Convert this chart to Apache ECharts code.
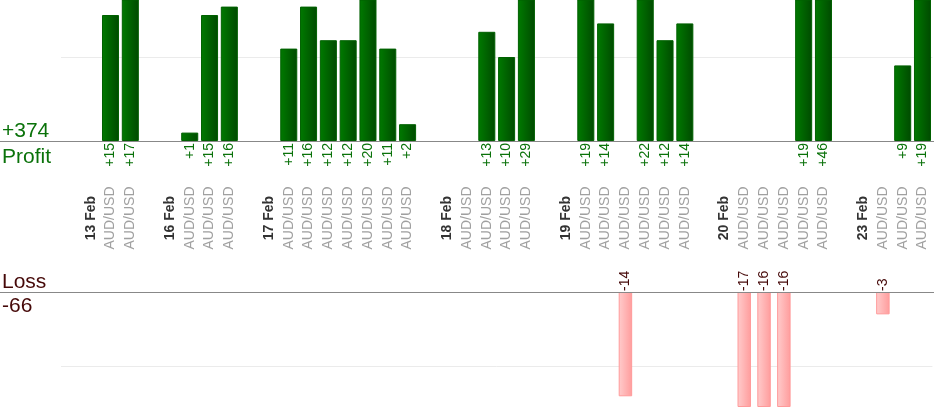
<!DOCTYPE html>
<html>
<head>
<meta charset="utf-8">
<script src="https://cdn.jsdelivr.net/npm/echarts@6/dist/echarts.min.js"></script>
<style>
html,body{margin:0;padding:0;background:#fff;}
#chart{width:934px;height:420px;}
</style>
</head>
<body>
<div id="chart"></div>
<script>
// ---- data ----
var categories = [
  '', '13 Feb', 'AUD/USD', 'AUD/USD',
  '', '16 Feb', 'AUD/USD', 'AUD/USD', 'AUD/USD',
  '', '17 Feb', 'AUD/USD', 'AUD/USD', 'AUD/USD', 'AUD/USD', 'AUD/USD', 'AUD/USD', 'AUD/USD',
  '', '18 Feb', 'AUD/USD', 'AUD/USD', 'AUD/USD', 'AUD/USD',
  '', '19 Feb', 'AUD/USD', 'AUD/USD', 'AUD/USD', 'AUD/USD', 'AUD/USD', 'AUD/USD',
  '', '20 Feb', 'AUD/USD', 'AUD/USD', 'AUD/USD', 'AUD/USD', 'AUD/USD',
  '', '23 Feb', 'AUD/USD', 'AUD/USD', 'AUD/USD'
];
var profitValues = [
  null, null, 15, 17,
  null, null, 1, 15, 16,
  null, null, 11, 16, 12, 12, 20, 11, 2,
  null, null, null, 13, 10, 29,
  null, null, 19, 14, null, 22, 12, 14,
  null, null, null, null, null, 19, 46,
  null, null, null, 9, 19
];
var lossValues = [
  null, null, null, null,
  null, null, null, null, null,
  null, null, null, null, null, null, null, null, null,
  null, null, null, null, null, null,
  null, null, null, null, -14, null, null, null,
  null, null, -17, -16, -16, null, null,
  null, null, -3, null, null
];
var dateLabels = ['13 Feb', '16 Feb', '17 Feb', '18 Feb', '19 Feb', '20 Feb', '23 Feb'];

var totalProfit = profitValues.reduce(function (s, v) { return s + (v || 0); }, 0);
var totalLoss = lossValues.reduce(function (s, v) { return s + (v || 0); }, 0);

var FONT = '"Liberation Sans", Arial, sans-serif';
var GREEN_TEXT = '#0a720a';
var LOSS_TEXT = '#450808';

var chart = echarts.init(document.getElementById('chart'), null, { renderer: 'canvas' });

var splitLineCfg = {
  show: true,
  showMinLine: false,
  showMaxLine: false,
  lineStyle: { color: '#ebebeb', width: 1 }
};

chart.setOption({
  animation: false,
  backgroundColor: '#ffffff',
  textStyle: { fontFamily: FONT },
  grid: [
    { left: 61, width: 871.4, top: 0, height: 141, outerBoundsMode: 'none', containLabel: false },
    { left: 61, width: 871.4, top: 292, height: 114.5, outerBoundsMode: 'none', containLabel: false }
  ],
  xAxis: [
    {
      type: 'category', gridIndex: 0, position: 'bottom', data: categories,
      axisLine: { show: false }, axisTick: { show: false },
      axisLabel: {
        show: true, interval: 0, rotate: 90, margin: 77,
        align: 'center', verticalAlign: 'middle',
        fontFamily: FONT,
        formatter: function (v) {
          if (!v) return '';
          return dateLabels.indexOf(v) >= 0 ? '{d|' + v + '}' : '{a|' + v + '}';
        },
        rich: {
          d: { fontFamily: FONT, fontSize: 14, fontWeight: 'bold', color: '#333333' },
          a: { fontFamily: FONT, fontSize: 14, color: '#a0a0a0' }
        }
      },
      splitLine: { show: false }
    },
    {
      type: 'category', gridIndex: 1, position: 'top', data: categories,
      axisLine: { show: false }, axisTick: { show: false },
      axisLabel: { show: false }, splitLine: { show: false }
    }
  ],
  yAxis: [
    {
      type: 'value', gridIndex: 0, min: 0, max: 16.786, interval: 10,
      axisLine: { show: false }, axisTick: { show: false }, axisLabel: { show: false },
      splitLine: splitLineCfg
    },
    {
      type: 'value', gridIndex: 1, inverse: true, min: 0, max: 15.37, interval: 10,
      axisLine: { show: false }, axisTick: { show: false }, axisLabel: { show: false },
      splitLine: splitLineCfg
    }
  ],
  series: [
    {
      name: 'Profit', type: 'bar', xAxisIndex: 0, yAxisIndex: 0,
      data: profitValues, barWidth: '86%', clip: true,
      itemStyle: {
        color: new echarts.graphic.LinearGradient(0, 0, 1, 0, [
          { offset: 0, color: '#007a00' },
          { offset: 1, color: '#004a00' }
        ]),
        borderColor: '#006000', borderWidth: 1
      },
      label: {
        show: true, position: 'bottom', distance: 2, rotate: 90,
        align: 'right', verticalAlign: 'middle',
        fontFamily: FONT, fontSize: 14, color: GREEN_TEXT,
        formatter: function (p) { return '+' + p.value; }
      }
    },
    {
      name: 'Loss', type: 'bar', xAxisIndex: 1, yAxisIndex: 1,
      data: lossValues.map(function (v) { return v == null ? null : Math.abs(v); }),
      barWidth: '68%', clip: true,
      itemStyle: {
        color: new echarts.graphic.LinearGradient(0, 0, 1, 0, [
          { offset: 0, color: '#ffcccc' },
          { offset: 1, color: '#ff9c9c' }
        ]),
        borderColor: '#ff9a9a', borderWidth: 1
      },
      label: {
        show: true, position: 'top', distance: 1, rotate: 90,
        align: 'left', verticalAlign: 'middle',
        fontFamily: FONT, fontSize: 14, color: LOSS_TEXT,
        formatter: function (p) { return String(lossValues[p.dataIndex]); }
      }
    }
  ]
});

// baselines and summary texts placed from the axes' own zero positions
var y0 = chart.convertToPixel({ xAxisIndex: 0, yAxisIndex: 0 }, [0, 0])[1];
var y1 = chart.convertToPixel({ xAxisIndex: 1, yAxisIndex: 1 }, [0, 0])[1];
var W = chart.getWidth();
var l0 = Math.round(y0) + 0.5, l1 = Math.round(y1) + 0.5;

chart.setOption({
  graphic: [
    { type: 'line', z: 50, shape: { x1: 0, y1: l0, x2: W, y2: l0 }, style: { stroke: '#888888', lineWidth: 1 } },
    { type: 'line', z: 50, shape: { x1: 0, y1: l1, x2: W, y2: l1 }, style: { stroke: '#888888', lineWidth: 1 } },
    { type: 'text', z: 50, x: 2, y: y0 - 10, style: { text: '+' + totalProfit, fill: GREEN_TEXT, font: '21px ' + FONT, verticalAlign: 'middle' } },
    { type: 'text', z: 50, x: 2, y: y0 + 16, style: { text: 'Profit', fill: GREEN_TEXT, font: '21px ' + FONT, verticalAlign: 'middle' } },
    { type: 'text', z: 50, x: 2, y: y1 - 9.5, style: { text: 'Loss', fill: LOSS_TEXT, font: '21px ' + FONT, verticalAlign: 'middle' } },
    { type: 'text', z: 50, x: 2, y: y1 + 14, style: { text: String(totalLoss), fill: LOSS_TEXT, font: '21px ' + FONT, verticalAlign: 'middle' } }
  ]
});
</script>
</body>
</html>
